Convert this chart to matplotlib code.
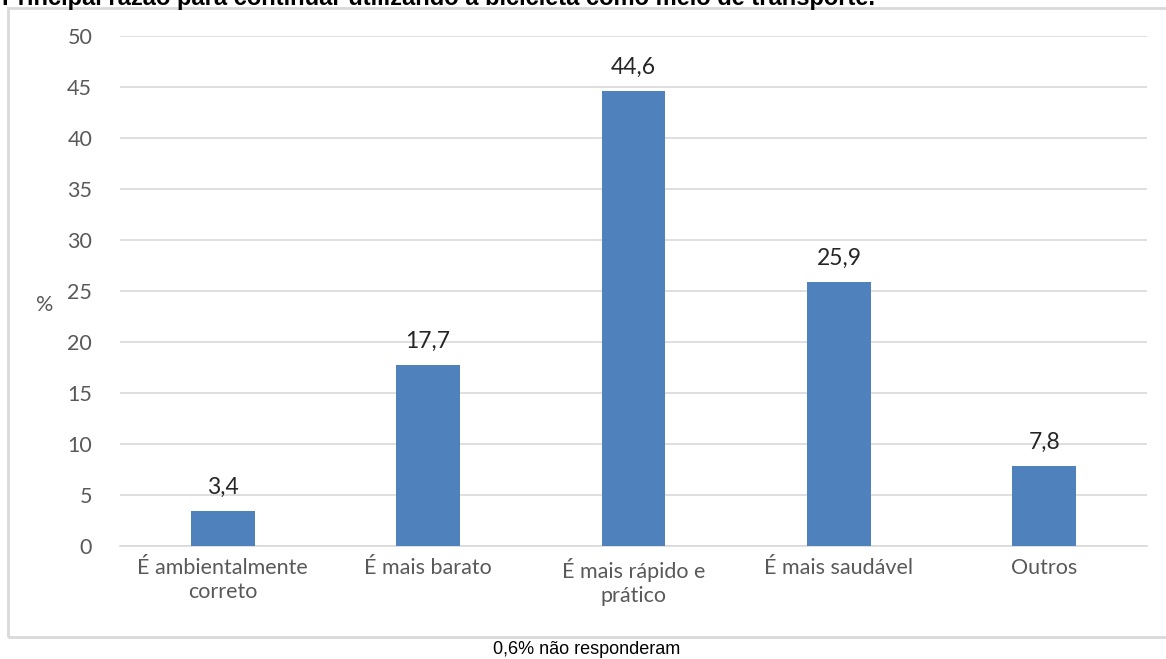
import matplotlib.pyplot as plt
from matplotlib.patches import Rectangle

categories = ['É ambientalmente\ncorreto', 'É mais barato', 'É mais rápido e\nprático',
              'É mais saudável', 'Outros']
values = [3.4, 17.7, 44.6, 25.9, 7.8]
labels = ['3,4', '17,7', '44,6', '25,9', '7,8']
yticks = [0, 5, 10, 15, 20, 25, 30, 35, 40, 45, 50]

plt.rcParams['font.family'] = ['Lato', 'DejaVu Sans']

fig = plt.figure(figsize=(11.66, 6.59), dpi=100)

# outer chart border (right side runs off the image)
fig.patches.append(Rectangle((8 / 1166, 22 / 659), 1.2, 629 / 659, transform=fig.transFigure,
                             fill=False, edgecolor='#d9d9d9', linewidth=2))

ax = fig.add_axes([120 / 1166, 113 / 659, 1027 / 1166, 510 / 659])
x = range(len(categories))
ax.bar(x, values, width=0.31, color='#4f81bd', zorder=3)
for i, v in enumerate(values):
    ax.text(i, v + 1.3, labels[i], ha='center', va='bottom', fontsize=16.5, color='#262626')

ax.set_xlim(-0.5, len(categories) - 0.5)
ax.set_ylim(0, 50)
ax.set_yticks(yticks)
ax.set_yticklabels([str(t) for t in yticks])
ax.set_xticks(list(x))
ax.set_xticklabels(categories, fontsize=15.5, color='#595959', linespacing=1.2)
ax.tick_params(axis='y', labelsize=15.5, labelcolor='#595959', length=0, pad=20)
ax.tick_params(axis='x', length=0, pad=9)
ax.grid(axis='y', color='#d9d9d9', linewidth=1.2, zorder=0)
for s in ['top', 'right', 'left']:
    ax.spines[s].set_visible(False)
ax.spines['bottom'].set_color('#d9d9d9')
ax.spines['bottom'].set_linewidth(1.2)

fig.text(45 / 1166, 1 - 305 / 659, '%', fontsize=15.5, color='#595959', ha='center', va='center')

# title is cut at the top of the image
fig.text(2 / 1166, 1 - 4.5 / 659, 'Principal razão para continuar utilizando a bicicleta como meio de transporte.',
         fontsize=17, fontweight='bold', family='Liberation Sans', ha='left', va='baseline')

fig.text(587 / 1166, 1 - 650 / 659, '0,6% não responderam', fontsize=13, family='Liberation Sans',
         ha='center', va='center', color='black')

fig.savefig('out.png', dpi=100)
